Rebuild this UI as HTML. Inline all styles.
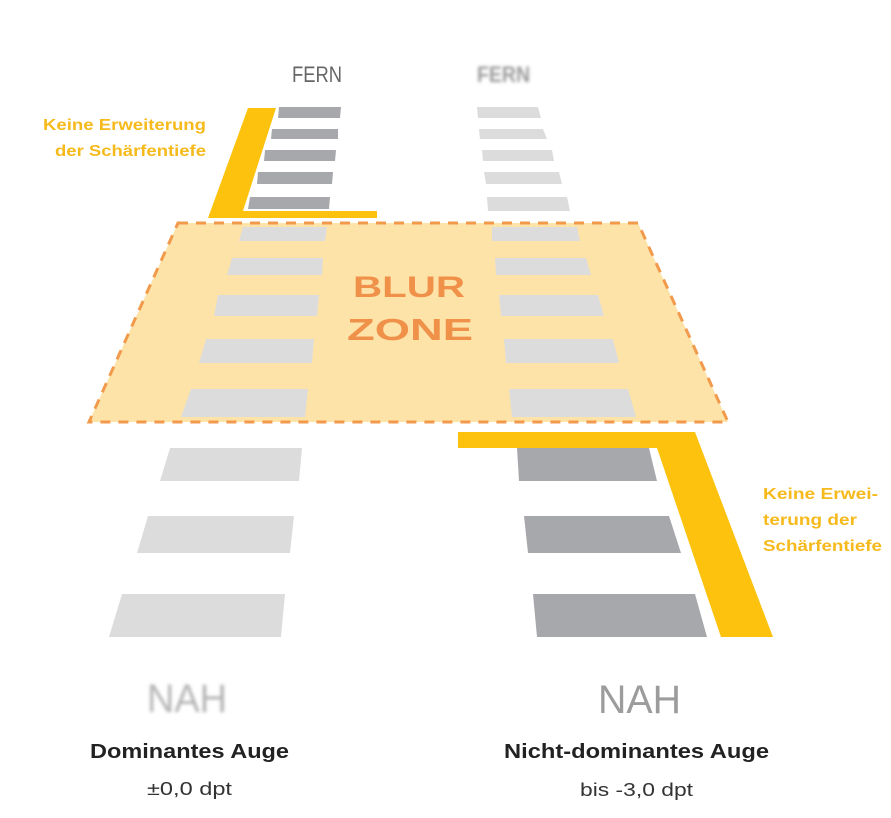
<!DOCTYPE html>
<html>
<head>
<meta charset="utf-8">
<style>
  html,body{margin:0;padding:0;background:#fff;}
  svg{display:block;}
  text{font-family:"Liberation Sans", sans-serif;}
</style>
</head>
<body>
<svg width="891" height="818" viewBox="0 0 891 818" xmlns="http://www.w3.org/2000/svg">
  <defs>
    <filter id="bl" x="-20%" y="-40%" width="140%" height="180%">
      <feGaussianBlur stdDeviation="1.6"/>
    </filter>
  </defs>
  <rect width="891" height="818" fill="#fff"/>

  <!-- FERN labels -->
  <text x="292" y="82" font-size="22" fill="#666" textLength="50" lengthAdjust="spacingAndGlyphs">FERN</text>
  <text x="477" y="82" font-size="22" fill="#9a9a9a" font-weight="bold" textLength="53" lengthAdjust="spacingAndGlyphs" filter="url(#bl)">FERN</text>

  <!-- Left top dark bars -->
  <g fill="#a7a8ab">
    <polygon points="279,107 341,107 340,118 278,118"/>
    <polygon points="272,129 338,129 338,139 271,139"/>
    <polygon points="265,150 336,150 335,161 264,161"/>
    <polygon points="258,172 333,172 332,184 257,184"/>
    <polygon points="250,197 330,197 329,209 248,209"/>
  </g>
  <!-- Right top light bars -->
  <g fill="#dcdcdd">
    <polygon points="477,107 538,107 541,118 478,118"/>
    <polygon points="479,129 543,129 547,139 480,139"/>
    <polygon points="482,150 552,150 554,161 483,161"/>
    <polygon points="484,172 559,172 562,184 486,184"/>
    <polygon points="487,197 567,197 570,211 488,211"/>
  </g>

  <!-- Top yellow L -->
  <polygon points="248,108 276,108 243,211 377,211 377,218 208,218" fill="#fcc20e"/>

  <!-- Left yellow text -->
  <text x="206" y="130" font-size="15.5" font-weight="bold" fill="#f6ba1c" text-anchor="end" textLength="163" lengthAdjust="spacingAndGlyphs">Keine Erweiterung</text>
  <text x="206" y="156" font-size="15.5" font-weight="bold" fill="#f6ba1c" text-anchor="end" textLength="151" lengthAdjust="spacingAndGlyphs">der Schärfentiefe</text>

  <!-- Blur zone -->
  <polygon points="178,223 638,223 728,422 89,422" fill="#fde3a8" stroke="#f29a4c" stroke-width="3" stroke-dasharray="10 8"/>

  <!-- Mid bars inside blur zone -->
  <g fill="#dcdcdd">
    <polygon points="243,227 327,227 325,241 239,241"/>
    <polygon points="232,258 323,258 322,275 227,275"/>
    <polygon points="218,295 319,295 317,316 214,316"/>
    <polygon points="206,339 314,339 312,363 199,363"/>
    <polygon points="191,389 308,389 305,417 181,417"/>
    <polygon points="492,227 577,227 580,241 492,241"/>
    <polygon points="495,258 586,258 591,275 496,275"/>
    <polygon points="499,295 598,295 604,316 501,316"/>
    <polygon points="504,339 613,339 619,363 506,363"/>
    <polygon points="509,389 628,389 636,417 512,417"/>
  </g>

  <!-- BLUR ZONE text -->
  <text x="353" y="297" font-size="30" font-weight="bold" fill="#f0914a" textLength="112" lengthAdjust="spacingAndGlyphs">BLUR</text>
  <text x="347" y="340" font-size="31" font-weight="bold" fill="#f0914a" textLength="126" lengthAdjust="spacingAndGlyphs">ZONE</text>

  <!-- Left bottom light bars -->
  <g fill="#dcdcdd">
    <polygon points="170,448 302,448 299,481 160,481"/>
    <polygon points="148,516 294,516 290,553 137,553"/>
    <polygon points="122,594 285,594 281,637 109,637"/>
  </g>
  <!-- Right bottom dark bars -->
  <g fill="#a7a8ab">
    <polygon points="517,448 649,448 657,481 519,481"/>
    <polygon points="524,516 669,516 681,553 528,553"/>
    <polygon points="533,594 695,594 707,637 537,637"/>
  </g>

  <!-- Bottom yellow shape -->
  <polygon points="458,432 695,432 773,637 721,637 657,448 458,448" fill="#fcc20e"/>

  <!-- Right yellow text -->
  <text x="763" y="499" font-size="15.5" font-weight="bold" fill="#f6ba1c" textLength="115" lengthAdjust="spacingAndGlyphs">Keine Erwei-</text>
  <text x="763" y="525" font-size="15.5" font-weight="bold" fill="#f6ba1c" textLength="94" lengthAdjust="spacingAndGlyphs">terung der</text>
  <text x="763" y="551" font-size="15.5" font-weight="bold" fill="#f6ba1c" textLength="119" lengthAdjust="spacingAndGlyphs">Schärfentiefe</text>

  <!-- NAH labels -->
  <text x="147" y="712" font-size="40" fill="#b4b4b4" textLength="80" lengthAdjust="spacingAndGlyphs" filter="url(#bl)">NAH</text>
  <text x="598" y="713" font-size="40" fill="#9c9c9c" textLength="83" lengthAdjust="spacingAndGlyphs">NAH</text>

  <!-- Captions -->
  <text x="90" y="758" font-size="20" font-weight="bold" fill="#222" textLength="199" lengthAdjust="spacingAndGlyphs">Dominantes Auge</text>
  <text x="147" y="795" font-size="18" fill="#333" textLength="85" lengthAdjust="spacingAndGlyphs">±0,0 dpt</text>
  <text x="504" y="758" font-size="20" font-weight="bold" fill="#222" textLength="265" lengthAdjust="spacingAndGlyphs">Nicht-dominantes Auge</text>
  <text x="580" y="796" font-size="18" fill="#333" textLength="113" lengthAdjust="spacingAndGlyphs">bis -3,0 dpt</text>
</svg>
</body>
</html>
